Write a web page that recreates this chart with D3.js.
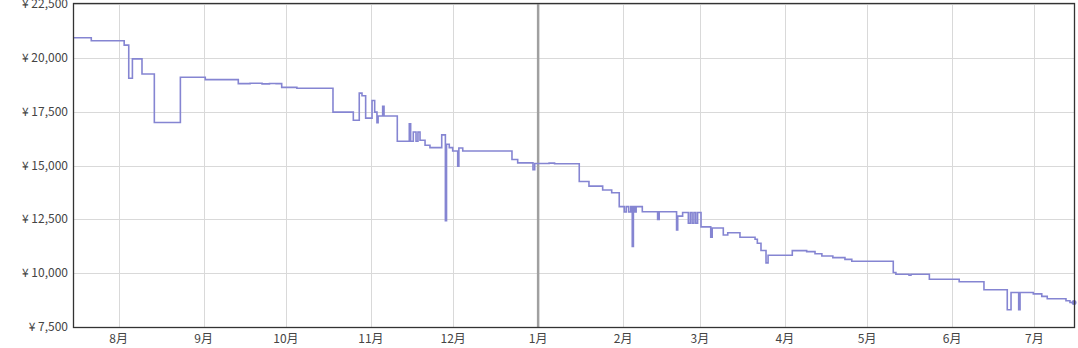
<!DOCTYPE html>
<html>
<head>
<meta charset="utf-8">
<script src="https://cdn.jsdelivr.net/npm/d3@7"></script>
<style>
  body { margin: 0; background: #fff; }
  svg text { font-family: "Noto Sans CJK JP", "Noto Sans", sans-serif; font-size: 12px; fill: #444; }
</style>
</head>
<body>
<div id="chart"></div>
<script>
// price history (step after), date -> yen
var dates = [
  "2022-07-15 08","2022-07-22 00","2022-08-03 00","2022-08-04 16","2022-08-06 00","2022-08-09 12",
  "2022-08-14 00","2022-08-23 12","2022-09-01 14","2022-09-13 15","2022-09-17 22","2022-09-22 07",
  "2022-09-25 00","2022-09-27 10","2022-09-29 11","2022-10-05 00","2022-10-18 04","2022-10-25 14",
  "2022-10-27 18","2022-10-28 18","2022-10-30 02","2022-11-01 10","2022-11-02 09","2022-11-03 05",
  "2022-11-03 15","2022-11-05 07","2022-11-05 19","2022-11-10 15","2022-11-15 00","2022-11-15 12",
  "2022-11-16 11","2022-11-17 11","2022-11-18 04","2022-11-18 22","2022-11-20 18","2022-11-22 13",
  "2022-11-26 20","2022-11-28 04","2022-11-28 14","2022-11-29 14","2022-11-30 20","2022-12-02 16",
  "2022-12-03 02","2022-12-04 12","2022-12-22 11","2022-12-24 13","2022-12-30 03","2022-12-30 18",
  "2023-01-05 00","2023-01-07 00","2023-01-16 00","2023-01-19 13","2023-01-24 13","2023-01-27 20",
  "2023-01-30 14","2023-02-01 10","2023-02-02 03","2023-02-03 00","2023-02-03 18","2023-02-04 08",
  "2023-02-04 18","2023-02-05 06","2023-02-05 18","2023-02-08 00","2023-02-13 14","2023-02-14 04",
  "2023-02-20 12","2023-02-20 22","2023-02-22 17","2023-02-24 19","2023-02-25 12","2023-02-26 04",
  "2023-02-26 20","2023-02-27 12","2023-02-28 04","2023-03-01 10","2023-03-04 23","2023-03-05 12",
  "2023-03-09 13","2023-03-11 04","2023-03-15 15","2023-03-21 03","2023-03-21 23","2023-03-23 07",
  "2023-03-25 03","2023-03-25 21","2023-04-03 17","2023-04-08 23","2023-04-12 00","2023-04-14 12",
  "2023-04-18 12","2023-04-22 22","2023-04-25 10","2023-05-10 13","2023-05-11 12","2023-05-16 07",
  "2023-05-17 00","2023-05-23 17","2023-06-03 14","2023-06-12 15","2023-06-21 03","2023-06-22 12",
  "2023-06-25 07","2023-06-25 19","2023-06-30 15","2023-07-03 17","2023-07-05 17","2023-07-12 13",
  "2023-07-14 00","2023-07-15 20"
];
var prices = [
  20930,20790,20590,19050,19950,19250,
  17000,19100,18990,18800,18820,18790,
  18810,18800,18630,18590,17480,17100,
  18360,18240,17200,18020,17480,16990,
  17300,17745,17300,16125,16940,16125,
  16555,16125,16555,16170,15940,15830,
  16420,12435,15985,15830,15675,14970,
  15815,15675,15280,15120,14800,15090,
  15110,15080,14260,14040,13860,13735,
  13090,12840,13090,12840,13090,11235,
  13090,12840,13090,12850,12500,12850,
  12010,12650,12820,12320,12820,12320,
  12820,12320,12820,12150,11670,12100,
  11770,11880,11670,11575,11390,11050,
  10480,10830,11045,11000,10900,10800,
  10720,10640,10555,10030,9950,9900,
  9950,9720,9600,9230,8300,9100,
  8300,9100,9040,8920,8810,8720,
  8640,8640
];
var yTicks = [7500, 10000, 12500, 15000, 17500, 20000, 22500];
var xStart = "2022-07-15 08", xEnd = "2023-07-15 20";
var yearMark = "2023-01-01 00";

var parse = d3.timeParse("%Y-%m-%d %H");
var data = dates.map(function(d, i){ return {date: parse(d), value: prices[i]}; });

var width = 1078, height = 348;
var margin = {top: 4, right: 3, bottom: 21, left: 73};

var svg = d3.select("#chart").append("svg")
    .attr("width", width)
    .attr("height", height);

var x = d3.scaleTime()
    .domain([parse(xStart), parse(xEnd)])
    .range([margin.left, width - margin.right]);
var y = d3.scaleLinear()
    .domain([7500, 22500])
    .range([height - margin.bottom, margin.top]);

var months = d3.timeMonth.range(d3.timeMonth.ceil(parse(xStart)), parse(xEnd));

// grid
svg.append("g").selectAll("line.v")
    .data(months)
    .enter().append("line")
    .attr("x1", function(d){ return Math.round(x(d)) + 0.5; })
    .attr("x2", function(d){ return Math.round(x(d)) + 0.5; })
    .attr("y1", y(22500)).attr("y2", y(7500))
    .attr("stroke", "#d9d9d9").attr("stroke-width", 1);
svg.append("g").selectAll("line.h")
    .data(yTicks)
    .enter().append("line")
    .attr("x1", margin.left).attr("x2", width - margin.right)
    .attr("y1", function(d){ return Math.round(y(d)) + 0.5; })
    .attr("y2", function(d){ return Math.round(y(d)) + 0.5; })
    .attr("stroke", "#d9d9d9").attr("stroke-width", 1);

// year boundary
svg.append("line")
    .attr("x1", x(parse(yearMark))).attr("x2", x(parse(yearMark)))
    .attr("y1", y(22500)).attr("y2", y(7500))
    .attr("stroke", "#a0a0a0").attr("stroke-width", 2.5);

// price line
var line = d3.line()
    .curve(d3.curveStepAfter)
    .x(function(d){ return x(d.date); })
    .y(function(d){ return y(d.value); });
svg.append("path")
    .datum(data)
    .attr("fill", "none")
    .attr("stroke", "#8585d2")
    .attr("stroke-width", 1.6)
    .attr("d", line);

var last = data[data.length - 1];
svg.append("circle")
    .attr("cx", x(last.date) - 1).attr("cy", y(last.value))
    .attr("r", 2.5).attr("fill", "#8585d2");

// frame
svg.append("rect")
    .attr("x", margin.left + 0.5).attr("y", margin.top - 0.5)
    .attr("width", width - margin.right - margin.left - 1)
    .attr("height", y(7500) - margin.top + 1)
    .attr("fill", "none").attr("stroke", "#333").attr("stroke-width", 1.3);

// axes labels
var fmt = d3.format(",");
svg.append("g").selectAll("text")
    .data(yTicks)
    .enter().append("text")
    .attr("x", margin.left - 5)
    .attr("y", function(d){ return y(d) + 4; })
    .attr("text-anchor", "end")
    .text(function(d){ return "¥ " + fmt(d); });

svg.append("g").selectAll("text")
    .data(months)
    .enter().append("text")
    .attr("x", function(d){ return x(d); })
    .attr("y", y(7500) + 16)
    .attr("text-anchor", "middle")
    .text(function(d){ return (d.getMonth() + 1) + "月"; });
</script>
</body>
</html>
